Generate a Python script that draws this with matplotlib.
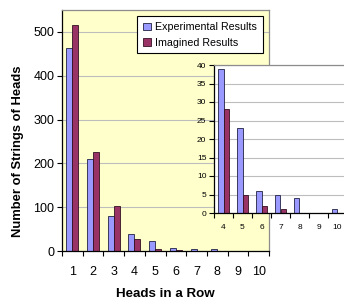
import numpy as np
import matplotlib
matplotlib.use('Agg')
import matplotlib.pyplot as plt

plt.rcParams['font.family'] = ['Liberation Sans', 'DejaVu Sans']

# Datos
heads = [1, 2, 3, 4, 5, 6, 7, 8, 9, 10]
experimental = [464, 209, 80, 39, 23, 6, 5, 4, 0, 1]
imagined = [516, 226, 103, 28, 5, 2, 1, 0, 0, 0]

inset_heads = [4, 5, 6, 7, 8, 9, 10]
inset_experimental = [39, 23, 6, 5, 4, 0, 1]
inset_imagined = [28, 5, 2, 1, 0, 0, 0]

blue = '#9999FF'
red = '#993366'
W, H = 344, 301

def px_axes(fig, x0, y0, x1, y1):
    # coordenadas en pixeles (origen arriba a la izquierda)
    return fig.add_axes([x0 / W, 1 - y1 / H, (x1 - x0) / W, (y1 - y0) / H])

def style_axes(ax, ticks, ylim, ystep, fs, pad_x, face):
    ax.set_facecolor(face)
    ax.set_xlim(ticks[0] - 0.5, ticks[-1] + 0.5)
    ax.set_ylim(*ylim)
    ax.set_yticks(np.arange(ylim[0], ylim[1] + 1, ystep))
    ax.set_xticks(ticks)
    ax.set_xticks(np.arange(ticks[0] - 0.5, ticks[-1] + 1, 1), minor=True)
    ax.tick_params(axis='x', which='major', length=0, pad=pad_x, labelsize=fs)
    ax.tick_params(axis='x', which='minor', length=3.5, direction='out', width=0.8)
    ax.tick_params(axis='y', length=3.5, direction='out', width=0.8, labelsize=fs, pad=2)
    ax.grid(axis='y', color='#bdbdbd', linewidth=0.8)
    ax.set_axisbelow(True)
    for s in ['left', 'bottom']:
        ax.spines[s].set_color('black')
        ax.spines[s].set_linewidth(0.9)
    for s in ['top', 'right']:
        ax.spines[s].set_color('#8c8c8c')
        ax.spines[s].set_linewidth(0.9)

fig = plt.figure(figsize=(W / 100, H / 100), dpi=100)

# Grafico principal
ax = px_axes(fig, 62, 10, 269, 251)
style_axes(ax, heads, (0, 550), 100, 9, 11, '#FFFFCC')
x = np.array(heads)
bw = 0.29
ax.bar(x - bw / 2, experimental, bw, color=blue, edgecolor='#222244', linewidth=0.6,
       label='Experimental Results')
ax.bar(x + bw / 2, imagined, bw, color=red, edgecolor='#331122', linewidth=0.6,
       label='Imagined Results')
fig.text(165.5 / W, 1 - 294 / H, 'Heads in a Row', ha='center', va='center',
         fontsize=9.6, fontweight='bold')
fig.text(18 / W, 1 - 151 / H, 'Number of Strings of Heads', rotation=90,
         ha='center', va='center', fontsize=9.4, fontweight='bold')

leg = ax.legend(loc='upper right', bbox_to_anchor=(268 / W, 1 - 11 / H),
                bbox_transform=fig.transFigure, fontsize=7.7, fancybox=False,
                framealpha=1, edgecolor='black', handlelength=0.7, handleheight=0.7,
                handletextpad=0.4, borderpad=0.55, labelspacing=0.5)
leg.get_frame().set_linewidth(0.8)

# Grafico ampliado (4 a 10)
ins = px_axes(fig, 214, 65, 347, 213)
style_axes(ins, inset_heads, (0, 40), 5, 6, 8, 'white')
xi = np.array(inset_heads)
bwi = 0.3
ins.bar(xi - bwi / 2, inset_experimental, bwi, color=blue, edgecolor='#222244', linewidth=0.6)
ins.bar(xi + bwi / 2, inset_imagined, bwi, color=red, edgecolor='#331122', linewidth=0.6)

fig.savefig('out.png', dpi=100)
